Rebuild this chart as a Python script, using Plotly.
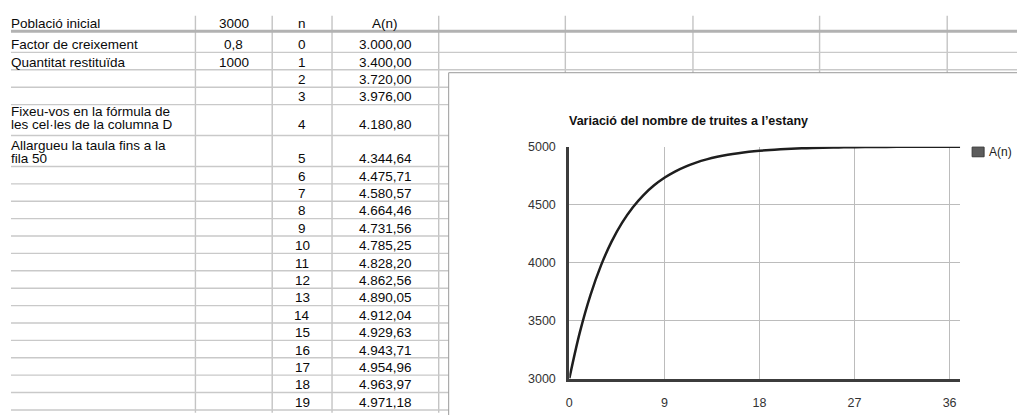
import plotly.graph_objects as go

W, H = 1017, 415

# ---------------- data ----------------
param_labels = ["Població inicial", "Factor de creixement", "Quantitat restituïda"]
param_values = ["3000", "0,8", "1000"]
note_formula = ["Fixeu-vos en la fórmula de", "les cel·les de la columna D"]
note_extend = ["Allargueu la taula fins a la", "fila 50"]
header_n = "n"
header_a = "A(n)"
series_name = "A(n)"
chart_title = "Variació del nombre de truites a l’estany"

n_values = [0, 1, 2, 3, 4, 5, 6, 7, 8, 9, 10, 11, 12, 13, 14, 15, 16, 17, 18, 19,
            20, 21, 22, 23, 24, 25, 26, 27, 28, 29, 30, 31, 32, 33, 34, 35, 36, 37]
a_values = [3000.00, 3400.00, 3720.00, 3976.00, 4180.80, 4344.64, 4475.71, 4580.57,
            4664.46, 4731.56, 4785.25, 4828.20, 4862.56, 4890.05, 4912.04, 4929.63,
            4943.71, 4954.96, 4963.97, 4971.18, 4976.94, 4981.55, 4985.24, 4988.19,
            4990.56, 4992.44, 4993.96, 4995.16, 4996.13, 4996.91, 4997.52, 4998.02,
            4998.42, 4998.73, 4998.99, 4999.19, 4999.35, 4999.48]
table_rows_shown = 20
x_ticks = [0, 9, 18, 27, 36]
y_ticks = [3000, 3500, 4000, 4500, 5000]

# ---------------- layout constants (pixels) ----------------
FONT = "Liberation Sans, Arial, sans-serif"
TXT = "#0a0a0a"
grid_left = 8
grid_top = 9
col_lines = [193, 270, 330, 437, 564, 692, 819, 947]
col_b_center = (193 + 270) / 2
col_c_center = (270 + 330) / 2
col_d_center = (330 + 437) / 2
col_a_left = 6
header_bottom = 25
row_heights = [22, 18, 18, 18, 32, 32] + [18] * 14
text_lift = [8, 8, 8, 8, 11, 8] + [8] * 14
line_gap = 14
box_x0, box_y0 = 447, 68
plot_x0, plot_x1 = 568, 960
plot_y_top, plot_y_bottom = 144.5, 384.5


def px(x):
    return x / W


def py(y):
    return 1 - y / H


def fmt_ca(v):
    s = f"{v:,.2f}"
    return s.replace(",", "X").replace(".", ",").replace("X", ".")


shapes = []
annotations = []


def hline(y, color, width):
    shapes.append(dict(type="line", xref="paper", yref="paper", layer="below",
                       x0=px(grid_left), x1=px(W + 5), y0=py(y), y1=py(y),
                       line=dict(color=color, width=width)))


def cell_text(x, y, text, anchor="center", size=13.5, color=TXT):
    annotations.append(dict(xref="paper", yref="paper", x=px(x), y=py(y), text=text,
                            showarrow=False, xanchor=anchor, yanchor="middle",
                            font=dict(family=FONT, size=size, color=color)))


# row bottoms
row_bottoms = []
b = header_bottom
for h in row_heights:
    b += h
    row_bottoms.append(b)
row_text_y = [rb - lift for rb, lift in zip(row_bottoms, text_lift)]

# grid lines
for x in col_lines:
    shapes.append(dict(type="line", xref="paper", yref="paper", layer="below",
                       x0=px(x), x1=px(x), y0=py(grid_top), y1=py(H + 5),
                       line=dict(color="#c4c4c4", width=1.4)))
for yb in row_bottoms:
    hline(yb, "#c9c9c9", 1.4)
hline(header_bottom, "#b2b2b2", 3)

# header row
hdr_y = header_bottom - 8
cell_text(col_a_left, hdr_y, param_labels[0], anchor="left")
cell_text(col_b_center, hdr_y, param_values[0])
cell_text(col_c_center, hdr_y, header_n)
cell_text(col_d_center, hdr_y, header_a)

# parameter rows
for i in range(1, len(param_labels)):
    y = row_text_y[i - 1]
    cell_text(col_a_left, y, param_labels[i], anchor="left")
    cell_text(col_b_center, y, param_values[i])

# notes (bottom aligned, two lines)
for ridx, note in ((4, note_formula), (5, note_extend)):
    yb = row_text_y[ridx]
    for k, line in enumerate(note):
        cell_text(col_a_left, yb - line_gap * (len(note) - 1 - k), line, anchor="left")

# n / A(n) columns
for i in range(table_rows_shown):
    y = row_text_y[i]
    cell_text(col_c_center, y, str(n_values[i]))
    cell_text(col_d_center, y, fmt_ca(a_values[i]))

# chart box
shapes.append(dict(type="rect", xref="paper", yref="paper", layer="below",
                   x0=px(box_x0), x1=px(W + 20), y0=py(box_y0), y1=py(H + 20),
                   fillcolor="white", line=dict(color="#9a9a9a", width=1)))

# chart title
annotations.append(dict(xref="paper", yref="paper", x=px(566), y=py(118),
                        text="<b>" + chart_title + "</b>", showarrow=False,
                        xanchor="left", yanchor="middle",
                        font=dict(family=FONT, size=12.5, color="#111111")))

# legend (square + label)
shapes.append(dict(type="rect", xref="paper", yref="paper", layer="above",
                   x0=px(972), x1=px(984), y0=py(145), y1=py(155),
                   fillcolor="#5c5c5c", line=dict(color="#3a3a3a", width=1)))
annotations.append(dict(xref="paper", yref="paper", x=px(987), y=py(150),
                        text=series_name, showarrow=False, xanchor="left",
                        yanchor="middle", font=dict(family=FONT, size=12, color="#222222")))

fig = go.Figure()
fig.add_trace(go.Scatter(x=n_values, y=a_values, mode="lines", name=series_name,
                         line=dict(color="#1e1e1e", width=2.5, shape="spline"),
                         showlegend=False, hoverinfo="skip"))

fig.update_layout(
    width=W, height=H,
    margin=dict(l=0, r=0, t=0, b=0),
    paper_bgcolor="white",
    plot_bgcolor="rgba(0,0,0,0)",
    showlegend=False,
    shapes=shapes,
    annotations=annotations,
    xaxis=dict(domain=[px(plot_x0), px(plot_x1)], range=[0, 37], tickvals=x_ticks,
               showgrid=True, gridcolor="#bcbcbc", gridwidth=1, zeroline=False,
               showline=True, linecolor="#3c3c3c", linewidth=3, ticks="",
               ticklabelstandoff=10,
               tickfont=dict(family=FONT, size=12.5, color="#333333")),
    yaxis=dict(domain=[py(plot_y_bottom), py(plot_y_top)], range=[3000, 5000],
               tickvals=y_ticks, showgrid=True, gridcolor="#bcbcbc", gridwidth=1,
               zeroline=False, showline=True, linecolor="#3c3c3c", linewidth=3,
               ticks="", ticklabelstandoff=8,
               tickfont=dict(family=FONT, size=12.5, color="#333333")),
)

fig.write_html("out.html")
